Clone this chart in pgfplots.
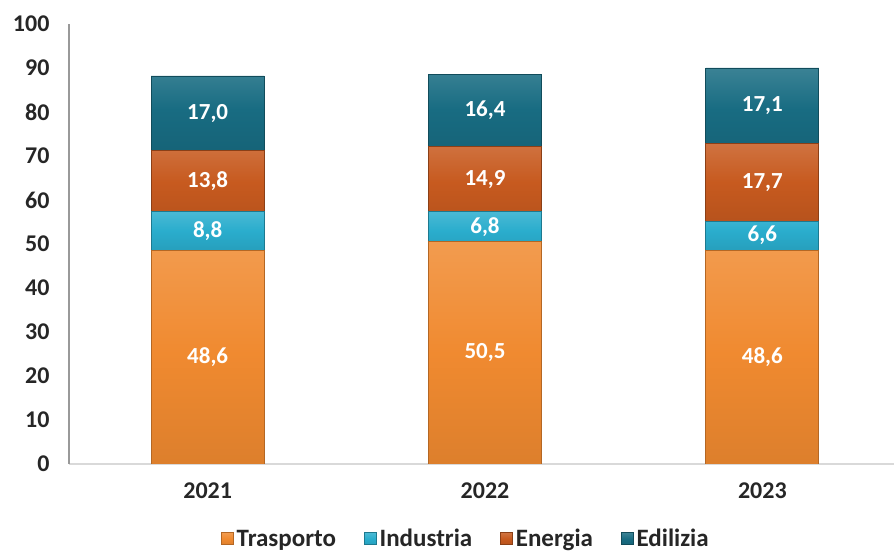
\documentclass[border=0pt]{standalone}
\usepackage{fontspec}
\setmainfont{Carlito}
\usepackage{pgfplots}
\pgfplotsset{compat=1.18}
\definecolor{trasp}{HTML}{F08A30}
\definecolor{indus}{HTML}{2AADCD}
\definecolor{energ}{HTML}{C75A1F}
\definecolor{edil}{HTML}{186C82}
\definecolor{txt}{HTML}{262626}
\begin{document}
\begin{tikzpicture}
\pgfplotsset{base/.style={width=832pt,height=440pt,scale only axis,
  xmin=-0.5,xmax=2.5,ymin=0,ymax=100},
  legsq/.style={legend image code/.code={\draw[##1,line width=0.6pt] (0pt,-6pt) rectangle (12pt,6pt);}}}
\begin{axis}[base, ybar stacked, bar width=113pt,
  axis x line*=bottom, axis y line*=left,
  x axis line style={draw=black!15,line width=1.6pt},
  y axis line style={draw=black!40,line width=1.2pt},
  major tick length=0pt,
  xtick={0,1,2}, xticklabels={2021,2022,2023},
  ytick={0,10,...,100},
  /pgf/number format/assume math mode=true,
  ticklabel style={font=\fontsize{24}{28}\selectfont\bfseries, text=txt},
  yticklabel style={xshift=-16pt},
  xticklabel style={yshift=-15pt},
  legend style={draw=none, fill=none, at={(0.477,-0.170)}, anchor=center,
    legend columns=-1, font=\fontsize{25}{29}\selectfont\bfseries, text=txt,
    /tikz/every even column/.append style={column sep=26pt},
    /tikz/every odd column/.append style={column sep=1pt}},
  ]
\addplot[legsq, top color=trasp!85!white, bottom color=trasp!92!black, middle color=trasp, draw=trasp!75!black, line width=0.8pt] coordinates {(0,48.6) (1,50.5) (2,48.6)};
\addplot[legsq, top color=indus!85!white, bottom color=indus!92!black, middle color=indus, draw=indus!70!black, line width=0.8pt] coordinates {(0,8.8) (1,6.8) (2,6.6)};
\addplot[legsq, top color=energ!85!white, bottom color=energ!92!black, middle color=energ, draw=energ!70!black, line width=0.8pt] coordinates {(0,13.8) (1,14.9) (2,17.7)};
\addplot[legsq, top color=edil!85!white, bottom color=edil!92!black, middle color=edil, draw=edil!70!black, line width=0.8pt] coordinates {(0,17.0) (1,16.4) (2,17.1)};
\legend{Trasporto,Industria,Energia,Edilizia}
\end{axis}
\begin{axis}[base, hide axis, point meta=explicit symbolic,
  nodes near coords,
  nodes near coords style={anchor=center, text=white, font=\fontsize{23}{27}\selectfont\bfseries}]
\addplot[draw=none, mark=none] coordinates {
 (0,24.3) [48,6] (0,53.0) [8,8] (0,64.3) [13,8] (0,79.7) [17,0]
 (1,25.25) [50,5] (1,53.9) [6,8] (1,64.75) [14,9] (1,80.4) [16,4]
 (2,24.3) [48,6] (2,51.9) [6,6] (2,64.05) [17,7] (2,81.45) [17,1]};
\end{axis}
\pgfresetboundingbox
\path (-69pt,-89pt) rectangle (825pt,464pt);
\end{tikzpicture}
\end{document}
